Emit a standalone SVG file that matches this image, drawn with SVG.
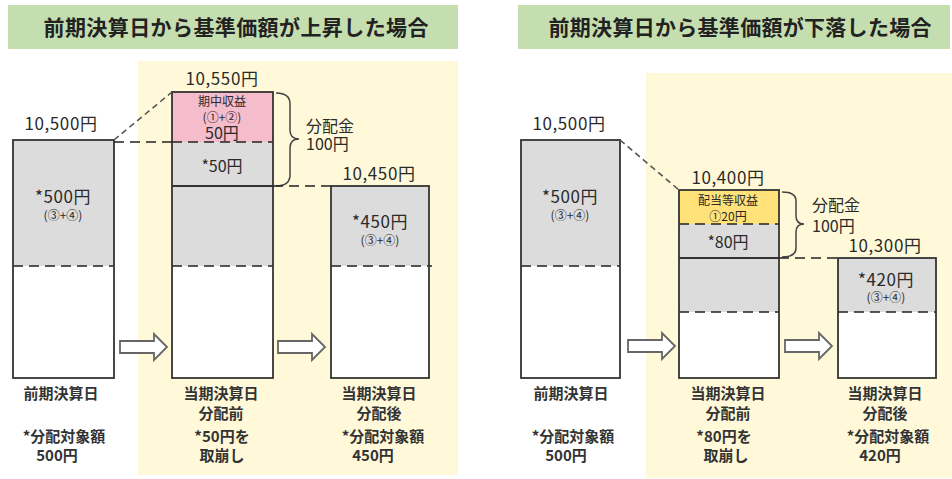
<svg xmlns="http://www.w3.org/2000/svg" width="952" height="479" viewBox="0 0 952 479">
<style>
text{font-family:"Noto Sans CJK JP","Noto Sans CJK SC",sans-serif;fill:#2a2a2a;text-anchor:middle}
.title{font-size:21px;font-weight:bold;fill:#222}
.val{font-size:17px;letter-spacing:0.6px}
.br{font-size:16px}
.big{font-size:16px}
.sm{font-size:12px}
.lab{font-size:15px;font-weight:bold;fill:#333}
.st{text-anchor:start}
.box{stroke:#333;stroke-width:1.8}
.out{fill:none;stroke:#333;stroke-width:1.8}
.dash{stroke:#222;stroke-width:1.6;stroke-dasharray:10,6;fill:none}
.cdash{stroke:#555;stroke-width:1.6;stroke-dasharray:6,4;fill:none}
.brace{fill:none;stroke:#444;stroke-width:1.5}
.arrow{fill:#fff;stroke:#666;stroke-width:1.8;stroke-linejoin:miter}
.gray{fill:#dcdcdc}
.white{fill:#fff}
</style>
<defs>
<path id="arr" d="M0,-6 L34,-6 L34,-13 L47,0 L34,13 L34,6 L0,6 Z"/>
</defs>
<!-- backgrounds -->
<g id="bg-left"><rect x="138" y="61" width="320" height="414" fill="#fff9d9"/></g>
<g id="bg-right"><rect x="646" y="73" width="306" height="405" fill="#fff9d9"/></g>
<!-- titles -->
<g id="title-left"><rect x="8" y="5" width="450" height="44" fill="#c5deb0"/>
<text class="title" x="236" y="35" textLength="385" lengthAdjust="spacing">前期決算日から基準価額が上昇した場合</text></g>
<g id="title-right"><rect x="518" y="5" width="432" height="44" fill="#c5deb0"/>
<text class="title" x="740" y="35" textLength="383" lengthAdjust="spacing">前期決算日から基準価額が下落した場合</text></g>

<!-- LEFT PANEL -->
<g id="L-bar1">
<rect x="13" y="140" width="101" height="126" class="gray"/>
<rect x="13" y="266" width="101" height="112" class="white"/>
<line x1="13" y1="266" x2="114" y2="266" class="dash"/>
<rect x="13" y="140" width="101" height="238" class="out"/>
<text class="val" x="61" y="130">10,500円</text>
<text class="val" x="63" y="203">*500円</text>
<text class="sm" x="63" y="220">(③+④)</text>
</g>
<g id="L-bar2">
<rect x="172" y="92" width="101" height="50" fill="#f5bccc"/>
<rect x="172" y="142" width="101" height="124" class="gray"/>
<rect x="172" y="266" width="101" height="112" class="white"/>
<line x1="172" y1="142" x2="273" y2="142" class="dash"/>
<line x1="172" y1="186" x2="273" y2="186" class="box"/>
<line x1="172" y1="266" x2="273" y2="266" class="dash"/>
<rect x="172" y="92" width="101" height="286" class="out"/>
<text class="val" x="222" y="85">10,550円</text>
<text class="sm" x="222" y="106">期中収益</text>
<text class="sm" x="222" y="122">(①+②)</text>
<text class="big" x="222" y="139">50円</text>
<text class="big" x="222" y="172">*50円</text>
</g>
<g id="L-brace">
<path class="brace" d="M276,93 Q290,93 290,104 L290,130 Q290,139 299,139 Q290,139 290,148 L290,175 Q290,186 276,186"/>
<text class="br st" x="306" y="132">分配金</text>
<text class="br st" x="306" y="150">100円</text>
</g>
<g id="L-bar3">
<rect x="331" y="186" width="98" height="80" class="gray"/>
<rect x="331" y="266" width="98" height="112" class="white"/>
<line x1="331" y1="266" x2="432" y2="266" class="dash"/>
<rect x="331" y="186" width="98" height="192" class="out"/>
<text class="val" x="379" y="180">10,450円</text>
<text class="val" x="380" y="228">*450円</text>
<text class="sm" x="380" y="245">(③+④)</text>
</g>
<g id="L-labels">
<text class="lab" x="61" y="399">前期決算日</text>
<text class="lab" x="64" y="442">*分配対象額</text>
<text class="lab" x="57" y="461">500円</text>
<text class="lab" x="221" y="399">当期決算日</text>
<text class="lab" x="221" y="419">分配前</text>
<text class="lab" x="222" y="442">*50円を</text>
<text class="lab" x="222" y="461">取崩し</text>
<text class="lab" x="379" y="399">当期決算日</text>
<text class="lab" x="379" y="419">分配後</text>
<text class="lab" x="383" y="442">*分配対象額</text>
<text class="lab" x="373" y="461">450円</text>
</g>

<!-- RIGHT PANEL -->
<g id="R-bar1">
<rect x="521" y="140" width="99" height="126" class="gray"/>
<rect x="521" y="266" width="99" height="112" class="white"/>
<line x1="521" y1="266" x2="620" y2="266" class="dash"/>
<rect x="521" y="140" width="99" height="238" class="out"/>
<text class="val" x="569" y="130">10,500円</text>
<text class="val" x="570" y="203">*500円</text>
<text class="sm" x="570" y="220">(③+④)</text>
</g>
<g id="R-bar2">
<rect x="679" y="190" width="100" height="34" fill="#ffe27a"/>
<rect x="679" y="224" width="100" height="88" class="gray"/>
<rect x="679" y="312" width="100" height="66" class="white"/>
<line x1="679" y1="224" x2="779" y2="224" class="dash"/>
<line x1="679" y1="258" x2="779" y2="258" class="box"/>
<line x1="679" y1="312" x2="779" y2="312" class="dash"/>
<rect x="679" y="190" width="100" height="188" class="out"/>
<text class="val" x="728" y="184">10,400円</text>
<text class="sm" x="728" y="205">配当等収益</text>
<text class="sm" x="728" y="221">①20円</text>
<text class="big" x="728" y="248">*80円</text>
</g>
<g id="R-brace">
<path class="brace" d="M782,192 Q796,192 796,201 L796,216 Q796,224 804,224 Q796,224 796,232 L796,248 Q796,257 782,257"/>
<text class="br st" x="812" y="211">分配金</text>
<text class="br st" x="812" y="232">100円</text>
</g>
<g id="R-bar3">
<rect x="838" y="258" width="98" height="54" class="gray"/>
<rect x="838" y="312" width="98" height="66" class="white"/>
<line x1="838" y1="312" x2="936" y2="312" class="dash"/>
<rect x="838" y="258" width="98" height="120" class="out"/>
<text class="val" x="885" y="252">10,300円</text>
<text class="val" x="886" y="286">*420円</text>
<text class="sm" x="886" y="302">(③+④)</text>
</g>
<g id="R-labels">
<text class="lab" x="571" y="399">前期決算日</text>
<text class="lab" x="573" y="442">*分配対象額</text>
<text class="lab" x="566" y="461">500円</text>
<text class="lab" x="728" y="399">当期決算日</text>
<text class="lab" x="728" y="419">分配前</text>
<text class="lab" x="724" y="442">*80円を</text>
<text class="lab" x="726" y="461">取崩し</text>
<text class="lab" x="885" y="399">当期決算日</text>
<text class="lab" x="885" y="419">分配後</text>
<text class="lab" x="888" y="442">*分配対象額</text>
<text class="lab" x="880" y="461">420円</text>
</g>

<!-- connectors -->
<g id="connectors">
<line x1="114" y1="140" x2="172" y2="92" class="cdash"/>
<line x1="114" y1="142" x2="172" y2="142" class="dash"/>
<line x1="273" y1="186" x2="331" y2="186" class="dash"/>
<line x1="620" y1="140" x2="679" y2="190" class="cdash"/>
<line x1="779" y1="258" x2="838" y2="258" class="dash"/>
<use href="#arr" class="arrow" transform="translate(120,347)"/>
<use href="#arr" class="arrow" transform="translate(278,347)"/>
<use href="#arr" class="arrow" transform="translate(628,346)"/>
<use href="#arr" class="arrow" transform="translate(785,346)"/>
</g>
</svg>
